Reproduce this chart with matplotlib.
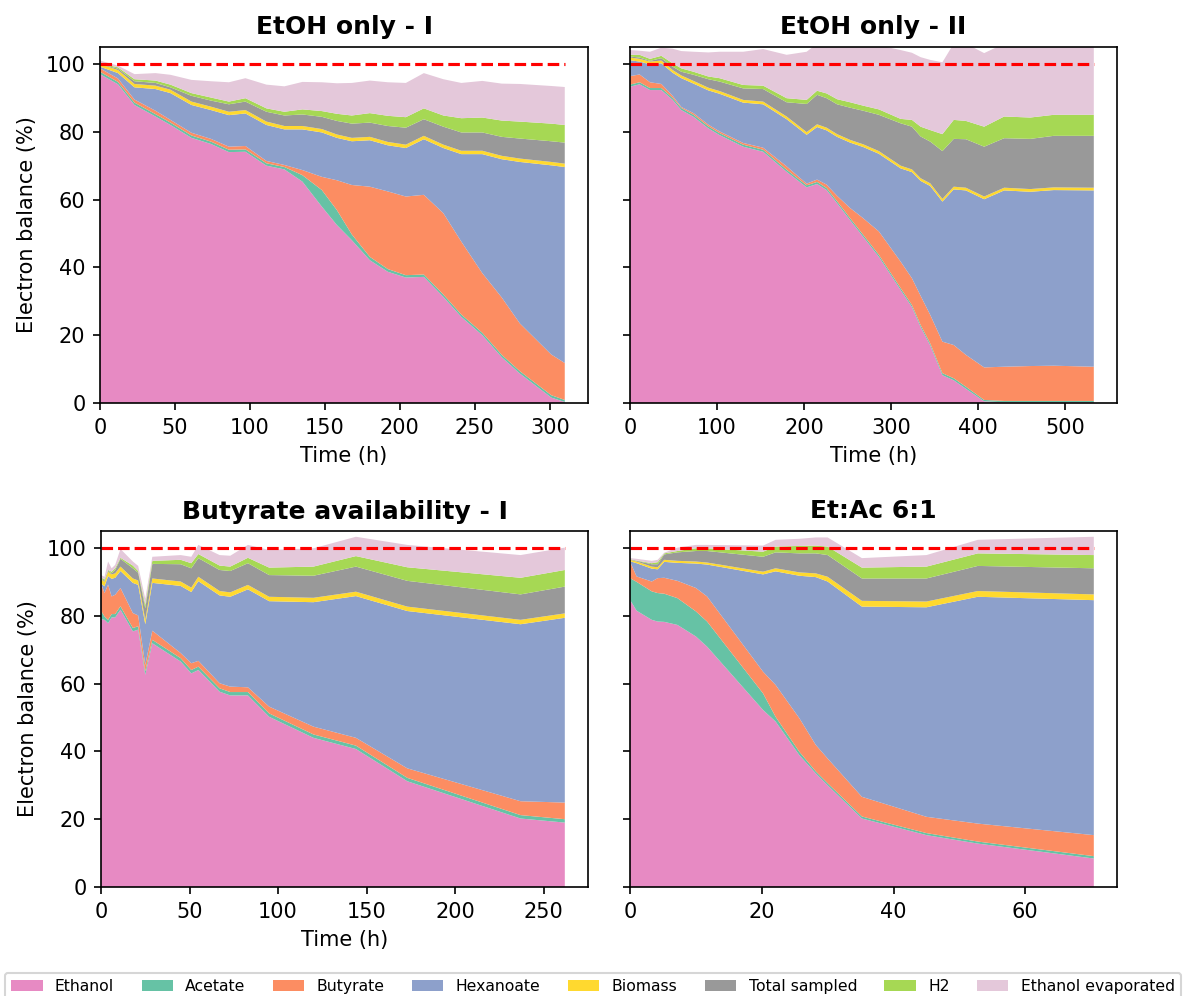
import matplotlib
matplotlib.use("Agg")
import matplotlib.pyplot as plt

# Series names and colours (stack order, bottom to top)
labels = ["Ethanol", "Acetate", "Butyrate", "Hexanoate", "Biomass",
          "Total sampled", "H2", "Ethanol evaporated"]
colors = ["#e78ac3", "#66c2a5", "#fc8d62", "#8da0cb", "#ffd92f",
          "#999999", "#a6d854", "#e4c8da"]

titles = ["EtOH only - I", "EtOH only - II", "Butyrate availability - I", "Et:Ac 6:1"]

# ---- EtOH only - I (electron balance, %)
time_1 = [0, 12, 23, 37, 47, 61, 74, 86, 97, 111, 123, 135, 148, 158, 168,
          180, 192, 204, 216, 229, 241, 255, 268, 280, 301, 310]
ethanol_1 = [97.0, 94.0, 87.9, 84.5, 82.0, 78.2, 76.4, 74.0, 74.1, 70.0, 68.9, 65.3, 57.9,
             52.5, 48.0, 42.1, 38.7, 37.0, 37.2, 31.3, 25.4, 20.0, 13.5, 8.7, 1.6, 0.3]
acetate_1 = [0.7, 0.7, 0.7, 0.7, 0.7, 0.7, 0.7, 0.7, 0.7, 0.7, 0.7, 1.9, 4.9,
             4.4, 1.7, 1.0, 0.8, 0.7, 0.7, 0.7, 0.7, 0.7, 0.7, 0.7, 0.7, 0.6]
butyrate_1 = [1.0, 1.0, 0.9, 1.0, 0.8, 0.8, 0.8, 0.9, 1.0, 0.7, 0.6, 1.5, 3.9,
              8.8, 14.6, 20.7, 22.9, 23.2, 23.5, 24.0, 21.5, 17.6, 16.9, 14.1, 12.0, 10.9]
hexanoate_1 = [0.5, 1.6, 3.6, 6.4, 7.9, 8.2, 8.5, 9.3, 9.6, 10.6, 10.5, 12.0, 13.1,
               12.5, 12.9, 13.7, 13.6, 14.3, 16.4, 19.2, 25.8, 35.1, 40.8, 47.6, 55.8, 57.8]
biomass_1 = [0.8, 0.9, 1.0, 1.0, 1.0, 1.0, 1.0, 1.0, 1.0, 1.0, 1.0, 1.0, 1.0,
             1.0, 1.0, 1.0, 1.0, 1.0, 1.0, 1.0, 1.0, 1.0, 1.0, 1.0, 1.0, 1.0]
sampled_1 = [0.0, 0.4, 0.8, 0.8, 0.7, 1.7, 1.8, 2.2, 2.5, 2.9, 3.1, 3.4, 3.6,
             4.0, 4.2, 4.2, 4.7, 5.0, 4.9, 5.3, 5.4, 5.4, 5.6, 5.9, 6.1, 6.2]
h2_1 = [0.2, 0.4, 0.6, 0.7, 0.8, 0.8, 0.9, 0.8, 1.0, 1.0, 1.1, 1.5, 1.7,
        2.1, 2.4, 2.8, 3.0, 3.1, 3.2, 3.3, 4.2, 4.4, 4.8, 5.0, 5.2, 5.2]
evap_1 = [0.8, 0.5, 1.5, 2.2, 2.9, 3.9, 4.8, 5.7, 5.9, 7.0, 7.5, 8.1, 8.5,
          9.0, 9.6, 9.6, 9.9, 10.1, 10.4, 10.7, 10.4, 10.8, 10.9, 11.1, 11.1, 11.2]

# ---- EtOH only - II
time_2 = [0, 11, 23, 36, 49, 59, 73, 90, 103, 130, 153, 180, 203, 215, 226, 238,
          253, 268, 286, 311, 324, 334, 345, 359, 372, 386, 407, 430, 460, 487, 533]
ethanol_2 = [93.3, 94.0, 92.3, 92.3, 89.4, 86.4, 84.4, 81.0, 79.0, 75.6, 74.1, 68.2, 63.6, 64.6,
             62.8, 58.9, 53.9, 49.0, 43.1, 33.3, 28.3, 22.4, 17.0, 8.2, 6.7, 4.2, 0.5, 0.2,
             0.2, 0.2, 0.2]
acetate_2 = [0.6, 0.6, 0.6, 0.6, 0.6, 0.6, 0.6, 0.6, 0.6, 0.6, 0.6, 0.6, 0.6, 0.6, 0.6, 0.6,
             0.6, 0.6, 0.6, 0.6, 0.6, 0.6, 0.6, 0.6, 0.6, 0.6, 0.4, 0.4, 0.4, 0.4, 0.4]
butyrate_2 = [2.5, 2.3, 1.7, 1.2, 0.6, 0.3, 0.5, 0.5, 0.5, 0.5, 0.6, 1.0, 0.5, 0.7, 1.0, 1.6,
              3.0, 4.9, 6.9, 7.8, 7.9, 8.6, 8.4, 9.3, 9.8, 9.4, 9.6, 10.1, 10.3, 10.4, 10.1]
hexanoate_2 = [4.7, 3.8, 5.3, 6.1, 6.8, 8.5, 8.7, 10.1, 11.1, 11.9, 12.8, 13.9, 14.4, 15.5,
               16.0, 17.4, 19.3, 21.0, 22.9, 27.5, 31.3, 33.9, 38.0, 41.3, 45.9, 48.5, 49.6,
               52.0, 51.4, 51.8, 52.0]
biomass_2 = [0.8, 0.8, 0.8, 0.8, 0.8, 0.8, 0.8, 0.8, 0.8, 0.8, 0.8, 0.8, 0.8, 0.8, 0.8, 0.8,
             0.8, 0.8, 0.8, 0.8, 0.8, 0.8, 0.8, 0.8, 0.8, 0.8, 0.8, 0.8, 0.8, 0.8, 0.8]
sampled_2 = [0.3, 0.4, 0.2, 0.7, 1.0, 1.1, 1.8, 2.5, 2.8, 3.4, 3.7, 4.2, 8.3, 8.7, 8.7, 8.8,
             9.5, 9.9, 10.7, 12.5, 12.6, 12.3, 12.3, 14.1, 14.1, 14.3, 14.7, 14.6, 14.8, 15.2, 15.3]
h2_2 = [0.5, 0.8, 0.6, 0.7, 1.0, 1.0, 0.9, 0.8, 1.0, 1.0, 1.0, 1.2, 1.2, 1.2, 1.4, 1.5,
        1.6, 1.5, 1.6, 1.3, 2.0, 2.9, 3.4, 5.0, 5.6, 5.4, 5.9, 6.4, 6.3, 6.2, 6.2]
evap_2 = [1.4, 1.2, 2.1, 2.4, 4.3, 5.1, 5.9, 7.1, 7.8, 9.8, 10.8, 12.8, 14.2, 13.9, 15.7, 17.4,
          17.8, 18.3, 18.9, 20.3, 19.8, 20.5, 20.7, 21.2, 22.5, 22.8, 21.7, 21.5, 22.3, 22.0, 22.0]

# ---- Butyrate availability - I
time_3 = [0, 2, 4, 6, 8, 11, 18, 21, 25, 29, 45, 51, 55, 67, 73, 83, 95, 120, 144, 173, 237, 262]
ethanol_3 = [79.0, 78.8, 77.8, 79.5, 79.5, 81.8, 75.4, 75.9, 62.6, 71.9, 66.5, 63.0, 64.0,
             57.6, 56.5, 56.5, 50.2, 44.0, 40.7, 31.2, 20.2, 19.0]
acetate_3 = [2.5, 1.0, 1.0, 1.0, 1.0, 1.0, 1.0, 1.0, 1.0, 1.0, 1.0, 1.0, 1.0,
             1.0, 1.0, 1.0, 1.0, 1.0, 1.0, 1.0, 1.0, 1.0]
butyrate_3 = [8.0, 6.9, 10.4, 5.2, 5.7, 5.4, 4.4, 3.2, 1.9, 2.7, 1.5, 2.0, 1.7,
              1.5, 1.6, 1.4, 2.0, 2.3, 2.3, 2.8, 4.1, 4.9]
hexanoate_3 = [0.0, 2.0, 2.5, 5.2, 5.0, 5.0, 8.9, 9.0, 12.0, 14.1, 19.8, 21.0, 23.5,
               25.9, 26.5, 28.9, 31.1, 36.7, 41.8, 46.4, 52.2, 54.5]
biomass_3 = [1.3, 1.3, 1.3, 1.3, 1.3, 1.3, 1.3, 1.3, 1.3, 1.3, 1.3, 1.3, 1.3,
             1.3, 1.3, 1.3, 1.3, 1.3, 1.3, 1.3, 1.3, 1.3]
sampled_3 = [0.2, 0.3, 0.3, 0.3, 1.0, 2.3, 3.0, 2.3, 3.4, 4.3, 5.1, 5.7, 5.5,
             6.2, 6.3, 6.4, 6.4, 6.5, 7.4, 7.6, 7.5, 7.9]
h2_3 = [0.3, 0.4, 0.2, 0.5, 0.5, 0.3, 0.8, 0.5, 1.0, 0.9, 1.3, 1.5, 1.2,
        1.3, 1.3, 1.6, 2.2, 2.7, 3.1, 4.0, 4.9, 4.9]
evap_3 = [0.7, 0.8, 2.5, 1.0, 1.0, 2.6, 1.2, 1.5, 1.8, 1.2, 1.4, 1.9, 2.7,
          3.1, 3.2, 3.8, 5.2, 5.4, 5.7, 6.6, 6.7, 6.6]

# ---- Et:Ac 6:1
time_4 = [0, 1, 3.3, 4.2, 5.2, 7.2, 10, 11.7, 20.2, 22.1, 25.7, 28.2, 30, 35.2, 45, 52.8, 70.4]
ethanol_4 = [84.7, 81.5, 78.8, 78.3, 78.2, 77.3, 73.9, 70.9, 52.2, 48.8, 38.9, 33.5, 30.0,
             20.2, 15.3, 12.8, 8.4]
acetate_4 = [6.4, 8.5, 8.4, 8.4, 8.3, 7.9, 7.4, 7.4, 4.9, 1.4, 1.0, 0.6, 0.6,
             0.6, 0.6, 0.6, 0.7]
butyrate_4 = [4.9, 1.6, 2.9, 4.4, 4.7, 5.1, 6.9, 7.4, 6.4, 9.4, 9.9, 7.8, 7.3,
              5.8, 4.8, 5.3, 6.2]
hexanoate_4 = [0.1, 3.9, 3.8, 2.6, 4.7, 5.3, 7.2, 9.4, 28.7, 33.5, 42.0, 49.5, 52.2,
               56.1, 61.8, 66.9, 69.3]
biomass_4 = [0.4, 0.5, 0.6, 0.6, 0.6, 0.6, 0.6, 0.6, 0.8, 0.9, 1.0, 1.1, 1.4,
             1.7, 1.7, 1.7, 1.7]
sampled_4 = [0.1, 0.2, 0.7, 0.9, 1.6, 2.5, 3.1, 3.4, 4.4, 4.7, 5.6, 5.9, 6.4,
             6.6, 6.8, 7.4, 7.7]
h2_4 = [0.1, 0.1, 0.3, 0.6, 0.3, 0.4, 0.8, 0.8, 1.5, 1.7, 2.2, 2.3, 2.5,
        3.2, 3.5, 3.7, 3.9]
evap_4 = [0.3, 0.5, 0.7, 0.7, 0.2, 1.0, 1.0, 1.0, 1.8, 2.0, 2.1, 2.4, 2.7,
          2.8, 3.4, 4.0, 5.4]

panels = [
    (time_1, [ethanol_1, acetate_1, butyrate_1, hexanoate_1, biomass_1, sampled_1, h2_1, evap_1]),
    (time_2, [ethanol_2, acetate_2, butyrate_2, hexanoate_2, biomass_2, sampled_2, h2_2, evap_2]),
    (time_3, [ethanol_3, acetate_3, butyrate_3, hexanoate_3, biomass_3, sampled_3, h2_3, evap_3]),
    (time_4, [ethanol_4, acetate_4, butyrate_4, hexanoate_4, biomass_4, sampled_4, h2_4, evap_4]),
]

W, H = 1185, 996
# axes boxes in pixels: left, top, right, bottom
boxes = [(100, 47, 588, 403), (630, 47, 1117, 403),
         (101, 531, 588, 887), (630, 531, 1117, 887)]

fig = plt.figure(figsize=(W / 150, H / 150), dpi=150)

axes = []
for i, (l, t, r, b) in enumerate(boxes):
    rect = [l / W, 1 - b / H, (r - l) / W, (b - t) / H]
    share = axes[i - 1] if i % 2 == 1 else None
    ax = fig.add_axes(rect, sharey=share)
    axes.append(ax)

handles = None
for i, (ax, (times, series)) in enumerate(zip(axes, panels)):
    polys = ax.stackplot(times, series, colors=colors, labels=labels)
    if handles is None:
        handles = polys
    ax.set_xlim(left=0)
    ax.plot([times[0], times[-1]], [100, 100], color="red", linestyle="--", linewidth=1.5)
    ax.set_ylim(0, 105)
    ax.set_yticks([0, 20, 40, 60, 80, 100])
    ax.set_title(titles[i], fontsize=12, fontweight="bold")
    if i % 2 == 0:
        ax.set_ylabel("Electron balance (%)")
    else:
        ax.tick_params(labelleft=False)
    if i < 3:
        ax.set_xlabel("Time (h)")

fig.legend(handles, labels, loc="upper left", bbox_to_anchor=(5 / W, 1 - 973 / H),
           ncol=8, fontsize=7.5, borderaxespad=0, columnspacing=1.75)

fig.savefig("out.png", dpi=150)
